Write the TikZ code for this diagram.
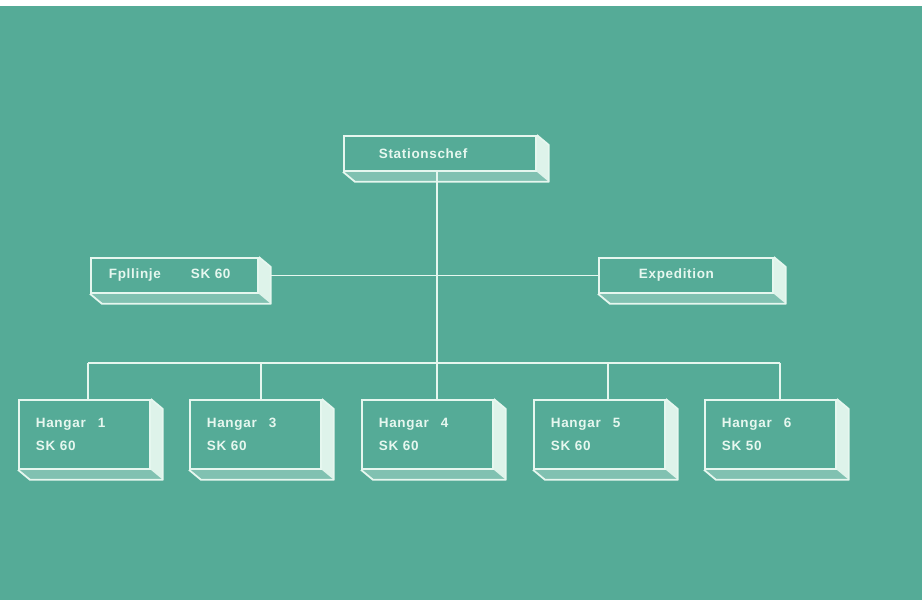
\documentclass[tikz,border=0pt]{standalone}
\usepackage{fontspec}
\setmainfont[LetterSpace=5]{Liberation Sans}
\usetikzlibrary{calc}
\definecolor{bg}{HTML}{55AB97}
\definecolor{ln}{HTML}{E6F7EF}
\tikzset{
  box/.style={draw=ln, line width=1.8pt, anchor=north west, inner ysep=0pt,
    text=ln, font=\bfseries\fontsize{13.5}{23}\selectfont, align=left},
  wire/.style={draw=ln, line width=1.8pt},
  hangar/.style={box, minimum width=131pt, minimum height=69pt, inner xsep=17pt, text width=97pt},
}
\newcommand\extrude[1]{%
  \fill[ln, opacity=.95] (#1.north east) -- ++(12,10) -- ($(#1.south east)+(12,10)$) -- (#1.south east) -- cycle;
  \fill[ln, opacity=.3] (#1.south west) -- ++(12,10) -- ($(#1.south east)+(12,10)$) -- (#1.south east) -- cycle;
  \draw[ln, line width=1.8pt, line join=round] (#1.north east) -- ++(12,10) -- ($(#1.south east)+(12,10)$) -- ($(#1.south west)+(12,10)$) -- (#1.south west);
}
\begin{document}
\begin{tikzpicture}[x=1pt, y=-1pt]
  \fill[bg] (0,0) rectangle (922,600);
  \fill[white] (0,0) rectangle (922,6);
  \useasboundingbox (0,0) rectangle (922,600);

  \node[box, minimum width=192pt, minimum height=35pt, inner xsep=35pt, text width=122pt] (stat) at (343,135) {Stationschef};
  \node[box, minimum width=167pt, minimum height=35pt, inner xsep=18pt, text width=131pt] (fp) at (90,257) {Fpllinje\hspace{30pt}SK 60};
  \node[box, minimum width=174pt, minimum height=35pt, inner xsep=40pt, text width=94pt] (exp) at (598,257) {Expedition};

  \node[hangar] (h1) at (18,399)  {Hangar\hspace{12pt}1\\SK 60};
  \node[hangar] (h3) at (189,399) {Hangar\hspace{12pt}3\\SK 60};
  \node[hangar] (h4) at (361,399) {Hangar\hspace{12pt}4\\SK 60};
  \node[hangar] (h5) at (533,399) {Hangar\hspace{12pt}5\\SK 60};
  \node[hangar] (h6) at (704,399) {Hangar\hspace{12pt}6\\SK 50};

  \coordinate (b1) at (88,363);
  \coordinate (b3) at (261,363);
  \coordinate (b4) at (437,363);
  \coordinate (b5) at (608,363);
  \coordinate (b6) at (780,363);

  \draw[wire] (stat.south -| b4) -- (b4 |- h4.north);
  \draw[wire] ([xshift=12pt]fp.east) -- (exp.west);
  \draw[wire] (b1) -- (b6);
  \draw[wire] (b1) -- (b1 |- h1.north);
  \draw[wire] (b3) -- (b3 |- h3.north);
  \draw[wire] (b5) -- (b5 |- h5.north);
  \draw[wire] (b6) -- (b6 |- h6.north);

  \extrude{stat}
  \extrude{fp}
  \extrude{exp}
  \extrude{h1}
  \extrude{h3}
  \extrude{h4}
  \extrude{h5}
  \extrude{h6}
\end{tikzpicture}
\end{document}
